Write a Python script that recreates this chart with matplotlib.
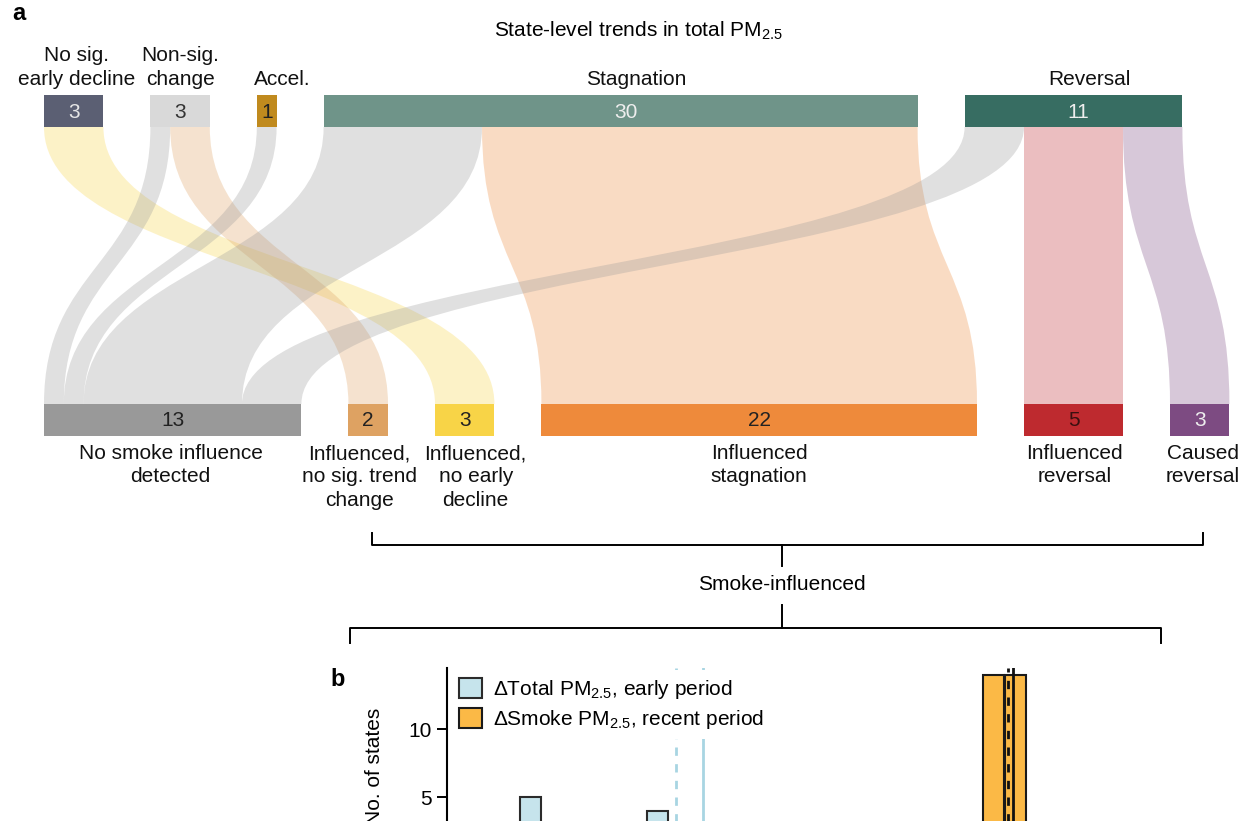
import numpy as np
import matplotlib.pyplot as plt
from matplotlib.patches import Rectangle, PathPatch
from matplotlib.path import Path

plt.rcParams['font.family'] = ['Liberation Sans', 'DejaVu Sans']
plt.rcParams['mathtext.fontset'] = 'custom'
plt.rcParams['mathtext.rm'] = 'Liberation Sans'
plt.rcParams['mathtext.it'] = 'Liberation Sans:italic'

# ---- panel a data: state-level trend classes -> smoke influence classes
top_names = ['No sig.\nearly decline', 'Non-sig.\nchange', 'Accel.', 'Stagnation', 'Reversal']
top_counts = [3, 3, 1, 30, 11]
top_colors = ['#5b5f73', '#d9d9d9', '#c08a1e', '#6f9489', '#376d62']
top_txt = ['#e6e6e6', '#333333', '#222222', '#eeeeee', '#eeeeee']

bot_names = ['No smoke influence\ndetected', 'Influenced,\nno sig. trend\nchange',
             'Influenced,\nno early\ndecline', 'Influenced\nstagnation',
             'Influenced\nreversal', 'Caused\nreversal']
bot_counts = [13, 2, 3, 22, 5, 3]
bot_colors = ['#999999', '#dea262', '#f8d447', '#ee8a3b', '#be2a2f', '#7d4b82']
bot_txt = ['#222222', '#222222', '#222222', '#222222', '#3a1010', '#eeeeee']

# flows (source index, target index, number of states), in stacking order
flow_src = [0, 1, 1, 2, 3, 3, 4, 4, 4]
flow_dst = [2, 0, 1, 0, 0, 3, 0, 4, 5]
flow_n = [3, 1, 2, 1, 8, 22, 3, 5, 3]

# ---- panel b data: histogram bars visible in the crop
bin_w = 0.25
early_left = [-2.143, -0.653]
early_counts = [5, 4]
recent_left = [3.29, 3.549]
recent_counts = [14, 14]
early_median, early_mean = -0.312, 0.0
recent_median, recent_mean = 3.585, 3.643

# ---- layout (pixels)
W, H = 1250, 821
unit = 19.8
gap = 47
x_start = 44
top_y0, top_y1 = 95, 127
bot_y0, bot_y1 = 404, 436
fs = 15

fig = plt.figure(figsize=(W / 100, H / 100), dpi=100)
ax = fig.add_axes([0, 0, 1, 1])
ax.set_xlim(0, W)
ax.set_ylim(H, 0)
ax.axis('off')


def node_positions(counts):
    lefts = []
    x = x_start
    for c in counts:
        lefts.append(x)
        x += c * unit + gap
    return lefts


top_left = node_positions(top_counts)
bot_left = node_positions(bot_counts)

# flows
src_off = [0.0] * len(top_counts)
dst_off = [0.0] * len(bot_counts)
ym = (top_y1 + bot_y0) / 2
for s, d, n in zip(flow_src, flow_dst, flow_n):
    a0 = top_left[s] + src_off[s] * unit
    a1 = a0 + n * unit
    b0 = bot_left[d] + dst_off[d] * unit
    b1 = b0 + n * unit
    src_off[s] += n
    dst_off[d] += n
    verts = [(a0, top_y1), (a0, ym), (b0, ym), (b0, bot_y0),
             (b1, bot_y0), (b1, ym), (a1, ym), (a1, top_y1), (a0, top_y1)]
    codes = [Path.MOVETO, Path.CURVE4, Path.CURVE4, Path.CURVE4,
             Path.LINETO, Path.CURVE4, Path.CURVE4, Path.CURVE4, Path.CLOSEPOLY]
    ax.add_patch(PathPatch(Path(verts, codes), facecolor=bot_colors[d],
                           edgecolor='none', alpha=0.3, zorder=1))

# top nodes
top_nudge = [3, 0, 16, 16, 16]
for i, (name, c) in enumerate(zip(top_names, top_counts)):
    x0 = top_left[i]
    w = c * unit
    ax.add_patch(Rectangle((x0, top_y0), w, top_y1 - top_y0,
                           facecolor=top_colors[i], edgecolor='none', zorder=3))
    ax.text(x0 + w / 2 + (5 if c > 5 else 0), (top_y0 + top_y1) / 2 + 1, str(c),
            ha='center', va='center', fontsize=fs, color=top_txt[i], zorder=4)
    ax.text(x0 + w / 2 + top_nudge[i], top_y0 - 6, name, ha='center', va='bottom',
            fontsize=fs, linespacing=1.35, color='#111111')

# bottom nodes
bot_nudge = [-2, -9, 11, 0, 1, 3]
for i, (name, c) in enumerate(zip(bot_names, bot_counts)):
    x0 = bot_left[i]
    w = c * unit
    ax.add_patch(Rectangle((x0, bot_y0), w, bot_y1 - bot_y0,
                           facecolor=bot_colors[i], edgecolor='none', zorder=3))
    ax.text(x0 + w / 2, (bot_y0 + bot_y1) / 2 + 1, str(c),
            ha='center', va='center', fontsize=fs, color=bot_txt[i], zorder=4)
    ax.text(x0 + w / 2 + bot_nudge[i], bot_y1 + 8, name, ha='center', va='top',
            fontsize=fs, linespacing=1.3, color='#111111')

ax.text(638, 31, 'State-level trends in total PM$_\\mathregular{2.5}$',
        ha='center', va='center', fontsize=fs)
ax.text(12, 13, 'a', ha='left', va='center', fontsize=17, fontweight='bold')

# brackets
lw = 1.4
bx0 = bot_left[1] + bot_counts[1] * unit / 2 + 4
bx1 = bot_left[5] + bot_counts[5] * unit / 2 + 3
bc = 782
ax.plot([bx0, bx0, bx1, bx1], [533, 545, 545, 533], color='black', lw=lw)
ax.plot([bc, bc], [545, 566], color='black', lw=lw)
ax.text(bc, 585, 'Smoke-influenced', ha='center', va='center', fontsize=fs)
ax.plot([bc, bc], [605, 628], color='black', lw=lw)
ax.plot([350, 350, 1161, 1161], [643, 628, 628, 643], color='black', lw=lw)
ax.text(330, 679, 'b', ha='left', va='center', fontsize=17, fontweight='bold')

# ---- panel b
axb = fig.add_axes([447 / W, 1 - 865 / H, (1160 - 447) / W, 197.2 / H])
axb.bar(early_left, early_counts, width=bin_w, align='edge', color='#c6e4ec',
        edgecolor='#2b2b2b', linewidth=1.5,
        label='$\\Delta$Total PM$_\\mathregular{2.5}$, early period', zorder=2)
axb.bar(recent_left, recent_counts, width=bin_w, align='edge', color='#fbb946',
        edgecolor='#1a1a1a', linewidth=1.5,
        label='$\\Delta$Smoke PM$_\\mathregular{2.5}$, recent period', zorder=2)
axb.axvline(early_median, color='#a8d5e2', lw=2, ls=(0, (3, 3)), zorder=1)
axb.axvline(early_mean, color='#a8d5e2', lw=2, zorder=1)
axb.axvline(recent_median, color='#111111', lw=2, ls=(0, (3, 3)), zorder=3)
axb.axvline(recent_mean, color='#111111', lw=2, zorder=3)
axb.set_xlim(-3.0, 5.37)
axb.set_ylim(0, 14.5)
axb.set_yticks([5, 10])
axb.tick_params(axis='y', labelsize=fs, length=7, width=1.4, pad=4)
axb.tick_params(axis='x', bottom=False, labelbottom=False)
for sp in ['top', 'right', 'bottom']:
    axb.spines[sp].set_visible(False)
axb.spines['left'].set_linewidth(1.5)
axb.set_ylabel('No. of states', fontsize=fs)
axb.yaxis.set_label_coords(-0.088, 0.5)
leg = axb.legend(loc='upper left', bbox_to_anchor=(0.0, 1.01), fontsize=fs,
                 handlelength=1.1, handleheight=1.1, handletextpad=0.5,
                 labelspacing=0.3, borderaxespad=0.2, frameon=True, fancybox=False)
leg.get_frame().set_edgecolor('none')
leg.get_frame().set_facecolor('white')
leg.get_frame().set_alpha(1)
leg.set_zorder(5)

fig.savefig('out.png', dpi=100)
